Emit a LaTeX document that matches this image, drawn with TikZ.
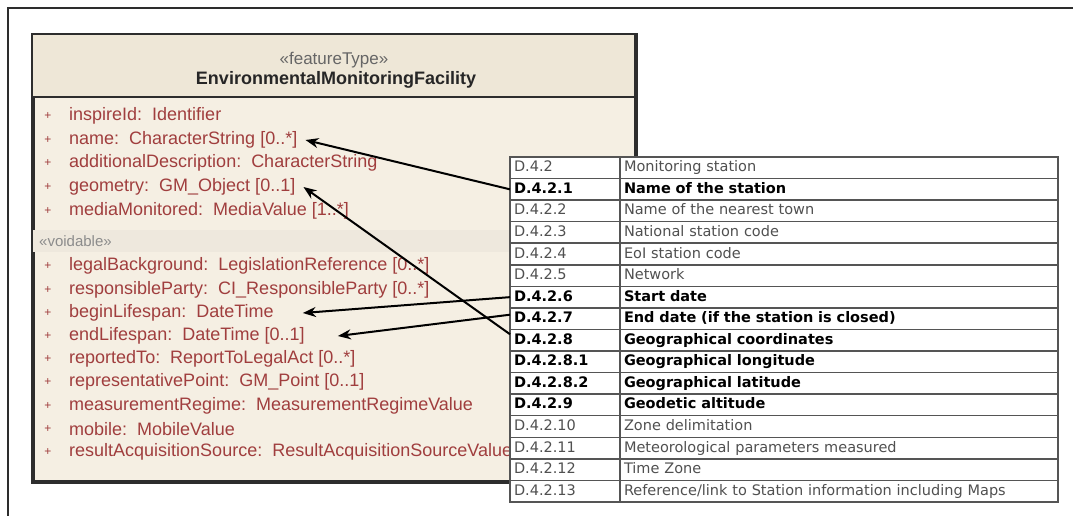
\documentclass[tikz,border=0pt]{standalone}
\usepackage{fontspec}
\setmainfont{Liberation Sans}
\newfontfamily\tabfont{DejaVu Sans}
\usetikzlibrary{arrows.meta}

\definecolor{umlhead}{RGB}{238,231,215}
\definecolor{umlbody}{RGB}{245,239,227}
\definecolor{umlband}{RGB}{238,232,221}
\definecolor{umlline}{RGB}{45,45,45}
\definecolor{attrred}{RGB}{160,62,62}
\definecolor{tabline}{RGB}{85,85,85}
\definecolor{tabgray}{RGB}{80,80,80}

\tikzset{
  attr/.style={anchor=west,inner sep=3pt,text=attrred,font=\fontsize{18}{18}\selectfont},
  plus/.style={text=attrred,inner sep=0pt,font=\fontsize{12}{12}\selectfont},
  cell/.style={draw=tabline,line width=1.5pt,fill=white,anchor=north west,inner ysep=0pt,inner xsep=4pt,
    outer sep=0pt,minimum height=21.56pt,text height=11pt,text depth=3pt,align=left,
    font=\tabfont\fontsize{14.5}{14.5}\selectfont},
  link/.style={line width=2pt,-{Stealth[length=13pt,width=10pt]}}
}

\begin{document}
\begin{tikzpicture}[x=1pt,y=-1pt]
\useasboundingbox (0,0) rectangle (1073,516);
% frame
\draw[umlline,line width=1.2pt] (8,516) -- (8,8) -- (1073,8);

% class box
\fill[black!45] (35,37) rectangle (638,483);
\node[draw=umlline,fill=umlbody,line width=2.5pt,anchor=north west,minimum width=602pt,minimum height=446pt,inner sep=0pt] (facility) at (32,34) {};
\fill[umlhead] (facility.north west) rectangle (634,97);
\fill[umlband] (32,230) rectangle (634,252);
\draw[umlline,line width=2.5pt] (facility.north west) rectangle (facility.south east);
\draw[umlline,line width=2.5pt] (32,97) -- (634,97);
\node[text=black!60,font=\fontsize{17}{17}\selectfont] (stereo) at (334,60) {«featureType»};
\node[font=\bfseries\fontsize{18}{18}\selectfont,text=black!85] (cname) at (336,80) {EnvironmentalMonitoringFacility};

\foreach \nm/\txt/\yy in {a1/{inspireId:\ \ Identifier}/116,
    aname/{name:\ \ CharacterString [0..*]}/140,
    a3/{additionalDescription:\ \ CharacterString}/163,
    ageom/{geometry:\ \ GM\_Object [0..1]}/187,
    a5/{mediaMonitored:\ \ MediaValue [1..*]}/211,
    a6/{legalBackground:\ \ LegislationReference [0..*]}/266,
    a7/{responsibleParty:\ \ CI\_ResponsibleParty [0..*]}/290,
    abegin/{beginLifespan:\ \ DateTime}/313,
    aend/{endLifespan:\ \ DateTime [0..1]}/336,
    a10/{reportedTo:\ \ ReportToLegalAct [0..*]}/359,
    a11/{representativePoint:\ \ GM\_Point [0..1]}/382,
    a12/{measurementRegime:\ \ MeasurementRegimeValue}/406,
    a13/{mobile:\ \ MobileValue}/429,
    a14/{resultAcquisitionSource:\ \ ResultAcquisitionSourceValue}/452}
  {
    \node[plus] (p-\nm) at (48,\yy) {+};
    \node[attr] (\nm) at (66,\yy) {\txt};
  }
\node[anchor=west,inner sep=3pt,text=black!45,font=\fontsize{15}{15}\selectfont] (void) at (36,241) {«voidable»};

% table
\foreach \code/\desc/\wt [count=\i] in {
    D.4.2/Monitoring station/0,
    D.4.2.1/Name of the station/1,
    D.4.2.2/Name of the nearest town/0,
    D.4.2.3/National station code/0,
    D.4.2.4/EoI station code/0,
    D.4.2.5/Network/0,
    D.4.2.6/Start date/1,
    D.4.2.7/End date (if the station is closed)/1,
    D.4.2.8/Geographical coordinates/1,
    D.4.2.8.1/Geographical longitude/1,
    D.4.2.8.2/Geographical latitude/1,
    D.4.2.9/Geodetic altitude/1,
    D.4.2.10/Zone delimitation/0,
    D.4.2.11/Meteorological parameters measured/0,
    D.4.2.12/Time Zone/0,
    D.4.2.13/{Reference/link to Station information including Maps}/0}
  {
    \pgfmathsetmacro\yy{157+(\i-1)*21.56}
    \ifnum\wt=1
      \node[cell,text width=103pt,font=\tabfont\bfseries\fontsize{14.5}{14.5}\selectfont] (c\i) at (510,\yy) {\code};
      \node[cell,text width=430pt,font=\tabfont\bfseries\fontsize{14.5}{14.5}\selectfont] (t\i) at (620,\yy) {\desc};
    \else
      \node[cell,text width=103pt,text=tabgray] (c\i) at (510,\yy) {\code};
      \node[cell,text width=430pt,text=tabgray] (t\i) at (620,\yy) {\desc};
    \fi
  }

% links
\draw[link] (c2.west) -- ([xshift=5pt]aname.east);
\draw[link] (c7.west) -- ([xshift=26pt]abegin.east);
\draw[link] ([yshift=4pt]c8.west) -- ([xshift=30pt]aend.east);
\draw[link] ([yshift=6pt]c9.west) -- ([xshift=5pt]ageom.east);
\end{tikzpicture}
\end{document}
